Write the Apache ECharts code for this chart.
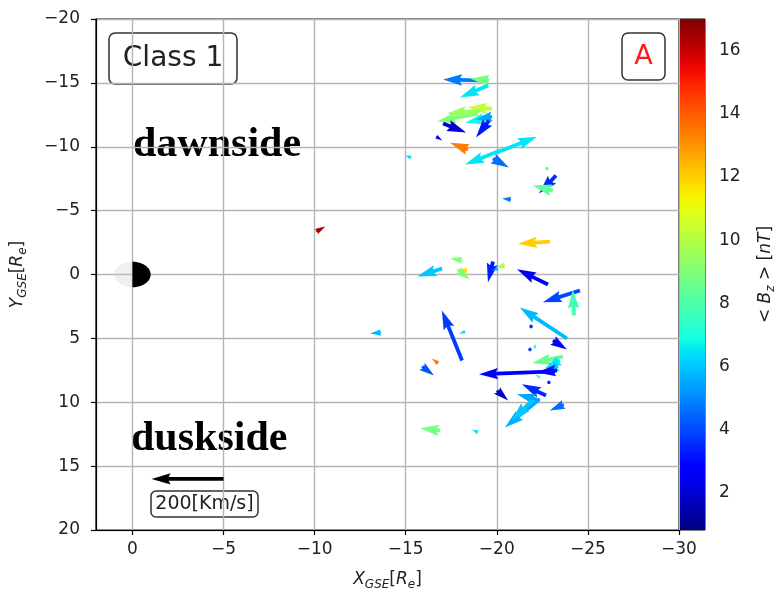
<!DOCTYPE html>
<html>
<head>
<meta charset="utf-8">
<script src="https://cdn.jsdelivr.net/npm/echarts@6/dist/echarts.min.js"></script>
<style>
  html, body { margin: 0; padding: 0; background: #fff; }
  #chart { width: 776px; height: 593px; }
</style>
</head>
<body>
<div id="chart"></div>
<script>
// Axis ticks
const xTicks = [0, -5, -10, -15, -20, -25, -30];
const yTicks = [-20, -15, -10, -5, 0, 5, 10, 15, 20];
const bzTicks = [2, 4, 6, 8, 10, 12, 14, 16];
const bzRange = [0.83, 17.0];

// Flow vectors: tail position [Re], velocity [km/s], mean Bz [nT]
const flowX  = [-19.52, -19.57, -19.52, -19.74, -18.97, -19.08, -19.63, -19.74, -17.05, -19.57,
                -16.67, -18.42, -20.01, -20.18, -19.79, -15.30, -22.75, -23.25, -23.08, -20.78,
                -22.92, -18.09, -18.37, -17.87, -17.00, -19.79, -20.45, -20.07, -22.81, -24.56,
                -24.23, -23.85, -18.09, -18.26, -21.88, -21.82, -22.09, -23.08, -23.63, -23.46,
                -23.36, -16.78, -15.90, -23.19, -23.30, -22.37, -22.86, -20.01, -22.70, -22.37,
                -22.26, -21.93, -23.68, -16.89, -18.97, -13.65, -10.09];
const flowY  = [-15.18, -15.18, -14.79, -12.99, -12.60, -12.83, -12.28, -12.36, -11.82, -12.05,
                -10.80, -9.78, -9.55, -9.70, -9.08, -9.15, -8.29, -7.75, -6.57, -5.87,
                -2.58, -1.10, -0.23, -0.31, -0.47, -1.02, -0.70, -0.47, 0.78, 1.25,
                3.21, 5.01, 6.73, 4.46, 4.07, 5.87, 5.79, 5.16, 6.42, 6.73,
                7.20, 6.96, 7.20, 7.59, 7.51, 8.06, 8.45, 9.08, 9.47, 9.86,
                9.86, 9.86, 10.17, 12.21, 12.36, 4.54, -3.36];
const flowVx = [125, 53, 78, 67, 114, 92, 69, 47, -64, 36,
                -17, 50, -111, 97, -44, 17, 3, 47, 56, 25,
                89, 33, 33, -33, 69, 14, 28, 17, 86, 103,
                3, 131, 56, 17, 2, 3, 0, -39, 86, 42,
                42, 17, -33, 211, 56, 14, 2, -31, 67, 64,
                92, 56, 39, 56, 17, 31, -25];
const flowVy = [-3, -6, 33, -3, 22, 8, 14, 8, 25, 47,
                11, -19, -44, 39, 25, -6, -5, 50, -14, -3,
                6, -6, -6, 25, 22, 58, 6, 6, -42, 33,
                -72, -86, -139, 6, 3, 2, -14, 25, 19, 22,
                14, -14, 25, 8, 6, -8, -3, 28, -31, -17,
                75, 56, 17, -6, -8, 3, -14];
const flowBz = [4.8, 8.8, 6.5, 10.3, 9.0, 9.5, 6.8, 5.5, 2.0, 3.2,
                2.5, 13.4, 6.5, 6.5, 4.6, 6.3, 8.5, 3.5, 8.3, 4.8,
                12.0, 9.0, 11.8, 9.0, 6.0, 3.3, 10.0, 5.5, 2.5, 4.0,
                7.8, 5.8, 3.8, 6.3, 3.5, 4.0, 7.0, 2.8, 8.5, 6.5,
                6.0, 13.5, 4.2, 2.7, 3.0, 7.5, 3.5, 1.8, 3.5, 5.5,
                5.6, 6.0, 4.6, 8.8, 6.5, 5.8, 16.5];

// Reference (key) arrow
const keyX = [-5];
const keyY = [16];
const keyVx = [200];
const keyVy = [0];

// Quiver scaling: 200 km/s spans this many Re along the X axis
const KEY_SPEED = 200;
const KEY_LEN_RE = 3.95;
const SHAFT_W = 3.8;   // shaft width in px

// Earth disc
const earth = [[0, 0, 1]];

function jet(t) {
  t = Math.min(1, Math.max(0, t));
  const seg = (pts) => {
    for (let i = 1; i < pts.length; i++) {
      if (t <= pts[i][0]) {
        const [x0, y0] = pts[i - 1], [x1, y1] = pts[i];
        return y0 + (y1 - y0) * (t - x0) / (x1 - x0);
      }
    }
    return pts[pts.length - 1][1];
  };
  const r = seg([[0, 0], [0.35, 0], [0.66, 1], [0.89, 1], [1, 0.5]]);
  const g = seg([[0, 0], [0.125, 0], [0.375, 1], [0.64, 1], [0.91, 0], [1, 0]]);
  const b = seg([[0, 0.5], [0.11, 1], [0.34, 1], [0.65, 0], [1, 0]]);
  return 'rgb(' + Math.round(r * 255) + ',' + Math.round(g * 255) + ',' + Math.round(b * 255) + ')';
}
const bzColor = (bz) => jet((bz - bzRange[0]) / (bzRange[1] - bzRange[0]));

// Quiver-style arrow polygon (tail pivot), in screen space
function arrowPoints(api, X, Y, vx, vy) {
  const p0 = api.coord([X, Y]);
  const px = api.coord([X + 1, Y]);
  const py = api.coord([X, Y + 1]);
  const nx = Math.hypot(px[0] - p0[0], px[1] - p0[1]);
  const ny = Math.hypot(py[0] - p0[0], py[1] - p0[1]);
  const ex = [(px[0] - p0[0]) / nx, (px[1] - p0[1]) / nx];
  const ey = [(py[0] - p0[0]) / ny, (py[1] - p0[1]) / ny];
  const pxPerKms = Math.abs(api.coord([X + KEY_LEN_RE, Y])[0] - p0[0]) / KEY_SPEED;
  const dx = (vx * ex[0] + vy * ey[0]) * pxPerKms;
  const dy = (vx * ex[1] + vy * ey[1]) * pxPerKms;
  const L = Math.hypot(dx, dy);
  const w = SHAFT_W;
  if (L < w) {
    const pts = [];
    for (let k = 0; k < 6; k++) {
      const th = k * Math.PI / 3;
      pts.push([p0[0] + Math.cos(th) * w * 0.5, p0[1] + Math.sin(th) * w * 0.5]);
    }
    return pts;
  }
  const Lw = L / w;
  let xs, ys;
  if (Lw < 5) {
    const s = Lw / 5;
    xs = [0, 0.5, 0, 5].map(v => v * s);
    ys = [0.5, 0.5, 1.5, 0].map(v => v * s);
  } else {
    xs = [0, Lw - 4.5, Lw - 5, Lw];
    ys = [0.5, 0.5, 1.5, 0];
  }
  const idx = [0, 1, 2, 3, 2, 1, 0];
  const sgn = [1, 1, 1, 1, -1, -1, -1];
  const ux = dx / L, uy = dy / L;
  return idx.map((k, i) => {
    const lx = xs[k] * w, ly = ys[k] * w * sgn[i];
    return [p0[0] + lx * ux - ly * uy, p0[1] + lx * uy + ly * ux];
  });
}

const flowData = flowX.map((x, i) => [x, flowY[i], flowVx[i], flowVy[i], flowBz[i]]);
const keyData = keyX.map((x, i) => [x, keyY[i], keyVx[i], keyVy[i]]);

const minus = (v) => String(v).replace('-', '\u2212');
const tickFont = { fontFamily: 'DejaVu Sans', fontSize: 17, color: '#222' };
const nameRich = {
  it: { fontFamily: 'DejaVu Sans', fontStyle: 'italic', fontSize: 17, lineHeight: 22, color: '#222' },
  rm: { fontFamily: 'DejaVu Sans', fontSize: 17, lineHeight: 22, color: '#222' },
  sub: { fontFamily: 'DejaVu Sans', fontStyle: 'italic', fontSize: 12, lineHeight: 10, verticalAlign: 'bottom', color: '#222' }
};

const jetStops = [];
for (let i = 0; i <= 40; i++) jetStops.push({ offset: i / 40, color: jet(i / 40) });

const chart = echarts.init(document.getElementById('chart'), null, { renderer: 'canvas' });
chart.setOption({
  animation: false,
  backgroundColor: '#fff',
  grid: [
    { left: 96, top: 19, width: 583, height: 511, outerBoundsMode: 'none', containLabel: false,
      show: true, borderColor: '#000', borderWidth: 1.2, backgroundColor: 'transparent' },
    { left: 680, top: 19, width: 25, height: 511, outerBoundsMode: 'none', containLabel: false,
      show: true, borderColor: '#000', borderWidth: 1, backgroundColor: 'transparent' }
  ],
  xAxis: [
    {
      gridIndex: 0, type: 'value', min: -30, max: 2, interval: 5, inverse: true,
      axisLine: { show: true, onZero: false, lineStyle: { color: '#000', width: 1.2 } },
      axisTick: { show: true, customValues: xTicks, length: 5, lineStyle: { color: '#000', width: 1.2 } },
      axisLabel: Object.assign({ customValues: xTicks, margin: 11, formatter: minus }, tickFont),
      splitLine: { show: true, lineStyle: { color: '#b4b4b4', width: 1.4 } },
      name: '{it|X}{sub|GSE}{rm|[}{it|R}{sub|e}{rm|]}',
      nameLocation: 'middle', nameGap: 39,
      nameTextStyle: { rich: nameRich }
    },
    { gridIndex: 1, type: 'value', min: 0, max: 1, show: false }
  ],
  yAxis: [
    {
      gridIndex: 0, type: 'value', min: -20, max: 20, interval: 5, inverse: true,
      axisLine: { show: true, onZero: false, lineStyle: { color: '#000', width: 1.2 } },
      axisTick: { show: true, customValues: yTicks, length: 5, lineStyle: { color: '#000', width: 1.2 } },
      axisLabel: Object.assign({ customValues: yTicks, margin: 16, formatter: minus }, tickFont),
      splitLine: { show: true, lineStyle: { color: '#b4b4b4', width: 1.4 } },
      name: '{it|Y}{sub|GSE}{rm|[}{it|R}{sub|e}{rm|]}',
      nameLocation: 'middle', nameGap: 67, nameRotate: 90,
      nameTextStyle: { rich: nameRich }
    },
    {
      gridIndex: 1, type: 'value', position: 'right', min: bzRange[0], max: bzRange[1],
      axisLine: { show: false },
      axisTick: { show: true, customValues: bzTicks, length: 5, lineStyle: { color: '#000', width: 1.2 } },
      axisLabel: Object.assign({ customValues: bzTicks, margin: 14 }, tickFont),
      splitLine: { show: false },
      name: '{rm|< }{it|B}{sub|z}{rm| > [}{it|nT}{rm|]}',
      nameLocation: 'middle', nameGap: 50, nameRotate: 90,
      nameTextStyle: { rich: nameRich }
    }
  ],
  series: [
    {
      // colour bar
      type: 'custom', xAxisIndex: 1, yAxisIndex: 1, silent: true,
      data: [[0]],
      renderItem: (params, api) => {
        const a = api.coord([0, bzRange[1]]);
        const b = api.coord([1, bzRange[0]]);
        return {
          type: 'rect',
          shape: { x: a[0], y: a[1], width: b[0] - a[0], height: b[1] - a[1] },
          style: { fill: new echarts.graphic.LinearGradient(0, 1, 0, 0, jetStops) }
        };
      }
    },
    {
      // Earth: dayside / nightside halves
      type: 'custom', xAxisIndex: 0, yAxisIndex: 0, silent: true,
      data: earth,
      renderItem: (params, api) => {
        const cx = api.value(0), cy = api.value(1), r = api.value(2);
        const half = (t0) => {
          const pts = [];
          for (let k = 0; k <= 48; k++) {
            const t = t0 + Math.PI * k / 48;
            pts.push(api.coord([cx + r * Math.cos(t), cy + r * Math.sin(t)]));
          }
          return pts;
        };
        return {
          type: 'group',
          children: [
            { type: 'polygon', shape: { points: half(-Math.PI / 2) }, style: { fill: 'rgba(200,200,200,0.28)' } },
            { type: 'polygon', shape: { points: half(Math.PI / 2) }, style: { fill: '#000' } }
          ]
        };
      }
    },
    {
      // plasma flow vectors coloured by <Bz>
      type: 'custom', xAxisIndex: 0, yAxisIndex: 0, silent: true,
      data: flowData,
      renderItem: (params, api) => ({
        type: 'polygon',
        shape: { points: arrowPoints(api, api.value(0), api.value(1), api.value(2), api.value(3)) },
        style: { fill: bzColor(api.value(4)) }
      })
    },
    {
      // key arrow
      type: 'custom', xAxisIndex: 0, yAxisIndex: 0, silent: true,
      data: keyData,
      renderItem: (params, api) => ({
        type: 'polygon',
        shape: { points: arrowPoints(api, api.value(0), api.value(1), api.value(2), api.value(3)) },
        style: { fill: '#000' }
      })
    }
  ],
  graphic: [
    { type: 'rect', shape: { x: 109, y: 33, width: 128, height: 51, r: 6 }, style: { fill: '#fff', stroke: '#333', lineWidth: 1.5 } },
    { type: 'text', x: 173, y: 58.5, style: { text: 'Class 1', font: '28px "DejaVu Sans"', fill: '#222', align: 'center', verticalAlign: 'middle' } },
    { type: 'rect', shape: { x: 622, y: 33, width: 43, height: 47, r: 6 }, style: { fill: '#fff', stroke: '#333', lineWidth: 1.5 } },
    { type: 'text', x: 643.5, y: 57, style: { text: 'A', font: '27px "DejaVu Sans"', fill: '#ff1a1a', align: 'center', verticalAlign: 'middle' } },
    { type: 'text', x: 133, y: 145, style: { text: 'dawnside', font: 'bold 42px "Liberation Serif"', fill: '#000', align: 'left', verticalAlign: 'middle' } },
    { type: 'text', x: 131, y: 439, style: { text: 'duskside', font: 'bold 42px "Liberation Serif"', fill: '#000', align: 'left', verticalAlign: 'middle' } },
    { type: 'rect', shape: { x: 151, y: 491, width: 107, height: 26, r: 5 }, style: { fill: '#fff', stroke: '#333', lineWidth: 1.5 } },
    { type: 'text', x: 204.5, y: 504, style: { text: '200[Km/s]', font: '19px "DejaVu Sans"', fill: '#222', align: 'center', verticalAlign: 'middle' } }
  ]
});
</script>
</body>
</html>
